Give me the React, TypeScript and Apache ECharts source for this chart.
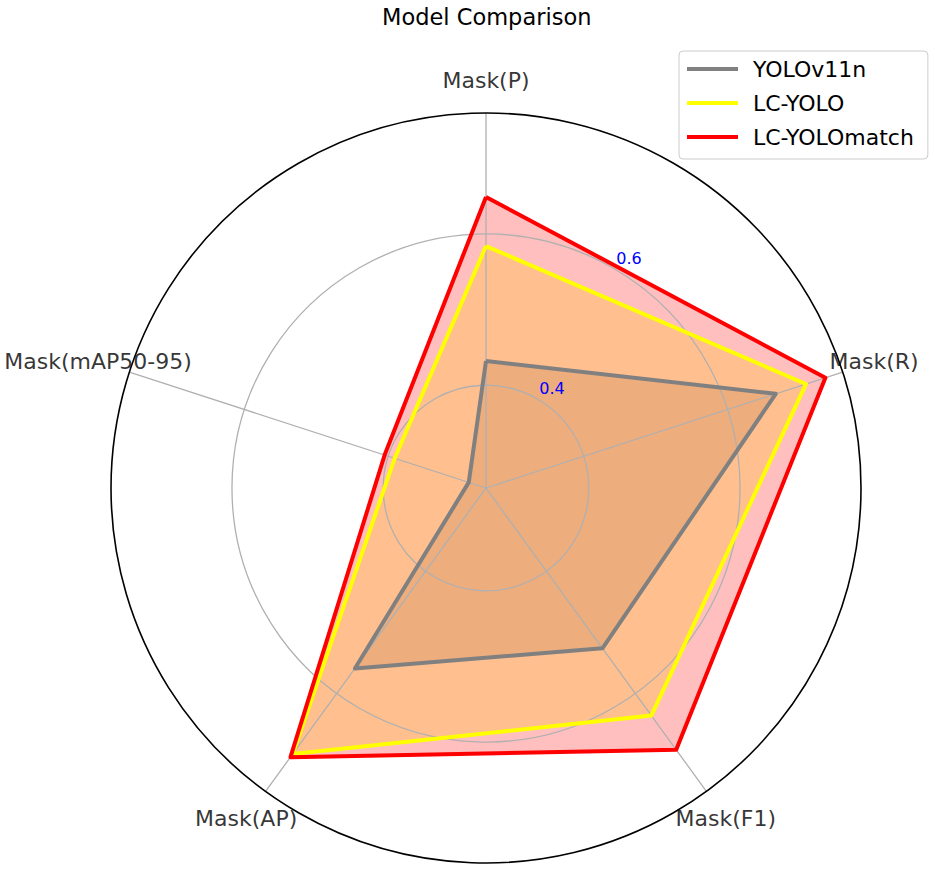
import React, { useEffect, useRef } from 'react';
import * as echarts from 'echarts';

const categories = ['Mask(P)', 'Mask(R)', 'Mask(F1)', 'Mask(AP)', 'Mask(mAP50-95)'];
const seriesNames = ['YOLOv11n', 'LC-YOLO', 'LC-YOLOmatch'];
const yolov11n = [0.432, 0.667, 0.526, 0.559, 0.288];
const lcYolo = [0.584, 0.709, 0.636, 0.699, 0.391];
const lcYoloMatch = [0.649, 0.736, 0.692, 0.704, 0.405];
const radialTicks = [0.4, 0.6];
const rMin = 0.264;
const rMax = 0.76;
const colors = ['#808080', '#ffff00', '#ff0000'];

const FONT = 'DejaVu Sans';

// points are [radius value, category index]; the first point is repeated to close the polygon
function loop(vals: number[]) {
  const pts: number[][] = vals.map((v, i) => [v, i]);
  pts.push([vals[0], 0]);
  return pts;
}

export default function App() {
  const ref = useRef<HTMLDivElement>(null);
  useEffect(() => {
    if (!ref.current) return;
    const chart = echarts.init(ref.current, undefined, { renderer: 'svg' });
    const allVals = [yolov11n, lcYolo, lcYoloMatch];
    const center = [486, 488];
    const radius = 375;
    const labelDist = 33;

    const fillSeries = allVals.map((vals, k) => ({
      type: 'line',
      name: seriesNames[k] + ' fill',
      coordinateSystem: 'polar',
      polarIndex: 0,
      data: loop(vals),
      symbol: 'none',
      silent: true,
      lineStyle: { width: 0, opacity: 0 },
      areaStyle: { color: colors[k], opacity: 0.25 },
      z: 2,
    }));
    const lineSeries = allVals.map((vals, k) => ({
      type: 'line',
      name: seriesNames[k],
      coordinateSystem: 'polar',
      polarIndex: 0,
      data: loop(vals),
      symbol: 'none',
      color: colors[k],
      lineStyle: { width: 4, color: colors[k], join: 'round' },
      itemStyle: { color: colors[k] },
      z: 4,
    }));
    const labelSeries = {
      type: 'scatter',
      coordinateSystem: 'polar',
      polarIndex: 0,
      symbolSize: 0,
      silent: true,
      z: 5,
      data: categories.map((c, i) => {
        const th = ((90 - 72 * i) * Math.PI) / 180;
        return {
          name: c,
          value: [rMax, i],
          label: { offset: [labelDist * Math.cos(th), -labelDist * Math.sin(th)] },
        };
      }),
      label: {
        show: true,
        position: 'inside',
        formatter: '{b}',
        align: 'center',
        verticalAlign: 'middle',
        fontFamily: FONT,
        fontSize: 22,
        color: '#000',
      },
    };

    chart.setOption({
      animation: false,
      backgroundColor: '#fff',
      title: {
        text: 'Model Comparison',
        left: 377,
        top: 0,
        textStyle: { fontFamily: FONT, fontSize: 22.5, fontWeight: 'normal', color: '#000' },
      },
      legend: {
        data: seriesNames,
        orient: 'vertical',
        left: 679,
        top: 51,
        icon: 'rect',
        itemWidth: 51,
        itemHeight: 4,
        itemGap: 12,
        padding: [7, 14, 11, 8],
        borderColor: '#cccccc',
        borderWidth: 1,
        borderRadius: 4,
        backgroundColor: 'rgba(255,255,255,0.8)',
        textStyle: { fontFamily: FONT, fontSize: 22, color: '#000', lineHeight: 22, padding: [0, 0, 0, 10] },
      },
      polar: [
        { center, radius },
        { center, radius },
      ],
      angleAxis: [
        {
          polarIndex: 0,
          type: 'value',
          min: 0,
          max: categories.length,
          interval: 1,
          startAngle: 90,
          clockwise: true,
          z: 3,
          axisLine: { show: true, lineStyle: { color: '#000', width: 1.6 } },
          axisTick: { show: false },
          axisLabel: { show: false },
          splitLine: { show: true, lineStyle: { color: '#b0b0b0', width: 1.3 } },
        },
        {
          polarIndex: 1,
          type: 'value',
          min: 0,
          max: 360,
          startAngle: 59.4,
          show: false,
        },
      ],
      radiusAxis: [
        {
          polarIndex: 0,
          type: 'value',
          min: rMin,
          max: rMax,
          show: false,
        },
        {
          polarIndex: 1,
          type: 'value',
          min: rMin,
          max: rMax,
          z: 3,
          axisLine: { show: false },
          axisTick: { show: false, customValues: radialTicks },
          axisLabel: {
            show: true,
            customValues: radialTicks,
            margin: 0,
            align: 'left',
            verticalAlign: 'bottom',
            padding: [0, 0, 3, 1],
            color: '#0000ff',
            fontFamily: FONT,
            fontSize: 16,
            formatter: (v: number) => v.toFixed(1),
          },
          splitLine: { show: true, lineStyle: { color: '#b0b0b0', width: 1.3 } },
        },
      ],
      series: [...fillSeries, ...lineSeries, labelSeries],
    });
    return () => chart.dispose();
  }, []);
  return (
    <div
      ref={ref}
      style={{ position: 'absolute', left: 0, top: 0, width: 935, height: 873 }}
    />
  );
}
